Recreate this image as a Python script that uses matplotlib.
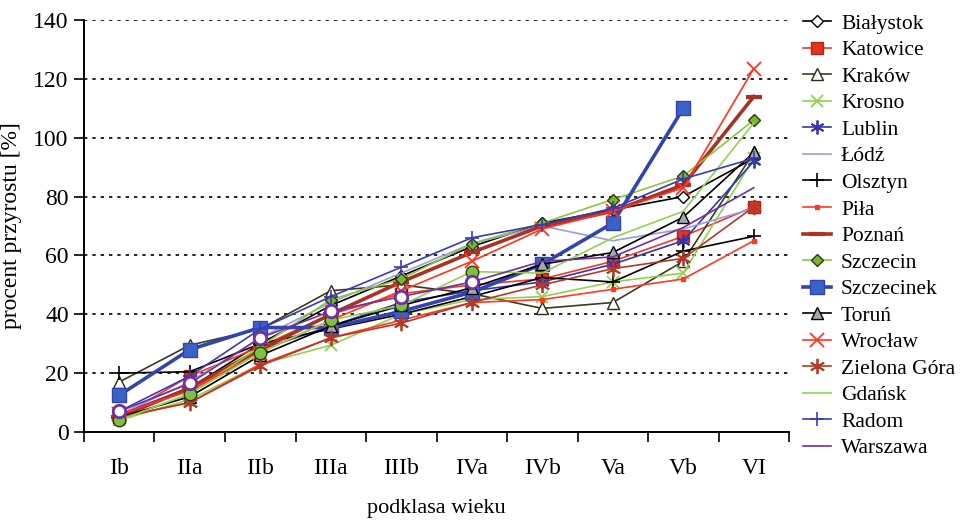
import numpy as np
import matplotlib
matplotlib.use("Agg")
import matplotlib.pyplot as plt

plt.rcParams['font.family'] = ['Liberation Serif', 'DejaVu Serif']

# podklasy wieku
classes = ["Ib", "IIa", "IIb", "IIIa", "IIIb", "IVa", "IVb", "Va", "Vb", "VI"]

bialystok   = [5, 15, 30, 43, 53, 63, 71, 75.5, 80, 93]
katowice    = [5, 19, 29, 40, 47, 50, 52, 58, 66.5, 76.5]
krakow      = [17, 29.5, 35, 48, 50, 47, 42, 44, 58, 95]
krosno      = [4, 11, 23, 29.5, 40, 45, 46, 51, 54, 93]
lublin      = [6, 15, 28, 36, 44, 48, 51, 57, 65, 92]
lodz        = [6, 17, 32, 44, 54, 64, 70, 65, 69, 76]
olsztyn     = [20, 20.5, 30, 35, 40, 46, 52.5, 51, 61.5, 66.5]
pila        = [5, 10, 23, 32, 38, 44, 45, 48.5, 52, 65]
poznan      = [5, 15, 28, 40, 51, 61, 70, 75, 84, 114]
szczecin    = [4, 13, 29, 45, 52, 64, 71, 79, 87, 106]
szczecinek  = [12.5, 28, 35.5, 35.5, 41, 47.5, 57, 71, 110]
torun       = [5, 12, 26, 36, 43, 49, 57, 61, 73, 95]
wroclaw     = [6, 14, 27, 38, 48, 58, 69, 75, 83, 123.5]
zielona     = [5, 10, 22.5, 32, 37, 44, 50, 55.5, 59, 76.5]
gdansk      = [4, 13, 27, 38, 43, 54.5, 54, 66, 75, 105]
radom       = [7, 19, 35, 46, 56, 66, 70.5, 76, 86, 93]
warszawa    = [7, 16.5, 32, 41, 46, 51, 58, 59.5, 69.5, 83]

series = [
    ("Białystok", bialystok, dict(color="black", lw=1.2, marker="D", ms=6, mfc="white", mec="black")),
    ("Katowice", katowice, dict(color="#ee3b24", lw=1.2, marker="s", ms=8, mfc="#e5331f", mec="#a52a1a")),
    ("Kraków", krakow, dict(color="#3b3b20", lw=1.2, marker="^", ms=8, mfc="white", mec="#2a2a15")),
    ("Krosno", krosno, dict(color="#92d050", lw=1.2, marker="x", ms=8, mew=1.3)),
    ("Lublin", lublin, dict(color="#3535a8", lw=1.2, marker=(6, 2, 0), ms=10, mew=1.3)),
    ("Łódź", lodz, dict(color="#9c9ce0", lw=1.2)),
    ("Olsztyn", olsztyn, dict(color="black", lw=1.2, marker="+", ms=10, mew=1.2)),
    ("Piła", pila, dict(color="#ff3a22", lw=1.2, marker="s", ms=3.5, mfc="#ff3a22", mec="#ff3a22")),
    ("Poznań", poznan, dict(color="#a83224", lw=2.6, marker="_", ms=12, mew=3)),
    ("Szczecin", szczecin, dict(color="#8cc63f", lw=1.2, marker="D", ms=6.5, mfc="#7ab530", mec="#2a3a10")),
    ("Szczecinek", szczecinek, dict(color="#3344b0", lw=2.6, marker="s", ms=10, mfc="#3a63c8", mec="#3344b0")),
    ("Toruń", torun, dict(color="black", lw=1.2, marker="^", ms=9, mfc="#a4a8ac", mec="black")),
    ("Wrocław", wroclaw, dict(color="#ff3320", lw=1.2, marker="x", ms=10, mew=1.3)),
    ("Zielona Góra", zielona, dict(color="#b5392b", lw=1.2, marker=(6, 2, 0), ms=11, mew=1.3)),
    ("Gdańsk", gdansk, dict(color="#95d055", lw=1.2)),
    ("Radom", radom, dict(color="#3a3ab5", lw=1.2, marker="+", ms=10, mew=1.2)),
    ("Warszawa", warszawa, dict(color="#7030a0", lw=1.2)),
]

fig = plt.figure(figsize=(9.71, 5.21), dpi=100)
ax = fig.add_axes([0.0865, 0.1708, 0.7261, 0.7908])

x = np.arange(len(classes))
for name, vals, style in series:
    ax.plot(x[:len(vals)], vals, label=name, **style)

# kółka na pierwszych podklasach (Gdańsk, Warszawa)
ax.plot(x[:6], gdansk[:6], ls="none", marker="o", ms=9, mfc="#80c040", mec="#2a3a10")
ax.plot(x[:6], warszawa[:6], ls="none", marker="o", ms=9, mfc="white", mec="#7030a0", mew=2)

ax.set_xlim(-0.5, 9.5)
ax.set_ylim(0, 140)
ax.set_yticks(np.arange(0, 141, 20))
ax.yaxis.grid(True, color="black", linestyle=(0, (2, 3)), linewidth=1.2)
ax.set_axisbelow(True)

ax.set_xticks(np.arange(-0.5, 10, 1))
ax.set_xticklabels([])
ax.set_xticks(x, minor=True)
ax.set_xticklabels(classes, minor=True)
ax.tick_params(axis="x", which="minor", length=0, pad=19, labelsize=17)
ax.tick_params(axis="x", which="major", length=7, width=1.2, direction="out")
ax.tick_params(axis="y", length=7, width=1.2, labelsize=17, pad=4)

for s in ["top", "right"]:
    ax.spines[s].set_visible(False)
for s in ["left", "bottom"]:
    ax.spines[s].set_linewidth(1.4)

ax.set_ylabel("procent przyrostu [%]", fontsize=17, labelpad=8)
ax.set_xlabel("podklasa wieku", fontsize=16)
ax.xaxis.set_label_coords(0.5, -0.162)

ax.legend(loc="upper left", bbox_to_anchor=(1.008, 1.036), frameon=False,
          fontsize=15.5, handlelength=1.3, labelspacing=0.3, handletextpad=0.45,
          borderaxespad=0)

fig.savefig("out.png", dpi=100)
